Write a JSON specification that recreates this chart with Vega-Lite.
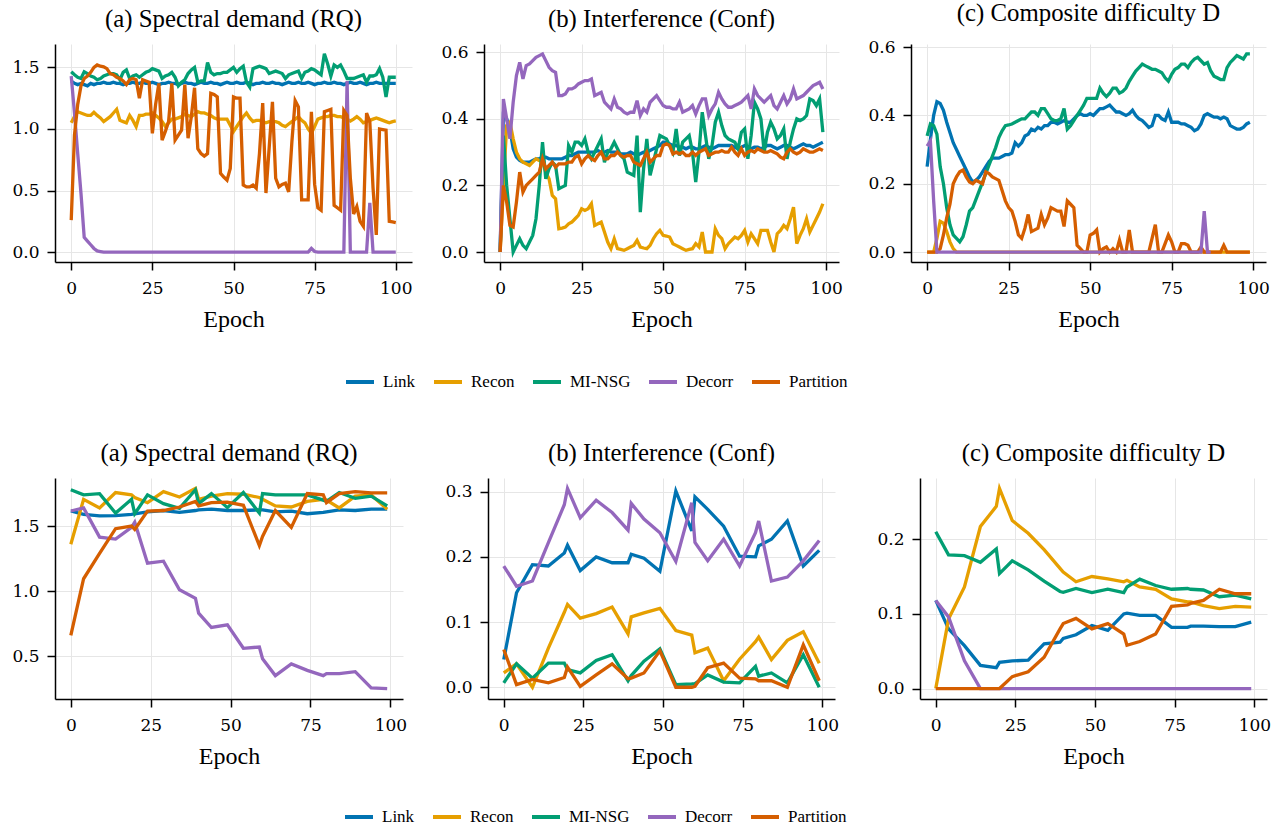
{
"$schema": "https://vega.github.io/schema/vega-lite/v6.json",
"padding": {"left": 11, "top": 1, "right": 5, "bottom": 5},
"datasets": {
"t1": [
{"e":0,"Link":1.39,"Recon":1.05,"MI-NSG":1.465,"Decorr":1.43,"Partition":0.26},
{"e":1,"Link":1.37,"Recon":1.10,"MI-NSG":1.44,"Decorr":1.13,"Partition":0.95},
{"e":2,"Link":1.36,"Recon":1.14,"MI-NSG":1.42,"Decorr":0.80,"Partition":1.2},
{"e":3,"Link":1.37,"Recon":1.13,"MI-NSG":1.41,"Decorr":0.48,"Partition":1.35},
{"e":4,"Link":1.36,"Recon":1.12,"MI-NSG":1.465,"Decorr":0.12,"Partition":1.41},
{"e":5,"Link":1.35,"Recon":1.11,"MI-NSG":1.45,"Decorr":0.09,"Partition":1.43},
{"e":6,"Link":1.37,"Recon":1.11,"MI-NSG":1.43,"Decorr":0.06,"Partition":1.46},
{"e":7,"Link":1.36,"Recon":1.135,"MI-NSG":1.42,"Decorr":0.03,"Partition":1.50},
{"e":8,"Link":1.37,"Recon":1.11,"MI-NSG":1.40,"Decorr":0.01,"Partition":1.52},
{"e":9,"Link":1.37,"Recon":1.09,"MI-NSG":1.41,"Decorr":0.005,"Partition":1.51},
{"e":10,"Link":1.38,"Recon":1.06,"MI-NSG":1.43,"Decorr":0,"Partition":1.505},
{"e":11,"Link":1.37,"Recon":1.08,"MI-NSG":1.44,"Decorr":0,"Partition":1.49},
{"e":12,"Link":1.37,"Recon":1.10,"MI-NSG":1.45,"Decorr":0,"Partition":1.45},
{"e":13,"Link":1.38,"Recon":1.13,"MI-NSG":1.45,"Decorr":0,"Partition":1.44},
{"e":14,"Link":1.37,"Recon":1.16,"MI-NSG":1.44,"Decorr":0,"Partition":1.42},
{"e":15,"Link":1.37,"Recon":1.07,"MI-NSG":1.40,"Decorr":0,"Partition":1.41},
{"e":16,"Link":1.36,"Recon":1.06,"MI-NSG":1.46,"Decorr":0,"Partition":1.39},
{"e":17,"Link":1.37,"Recon":1.05,"MI-NSG":1.48,"Decorr":0,"Partition":1.36},
{"e":18,"Link":1.37,"Recon":1.11,"MI-NSG":1.41,"Decorr":0,"Partition":1.40},
{"e":19,"Link":1.38,"Recon":1.07,"MI-NSG":1.43,"Decorr":0,"Partition":1.41},
{"e":20,"Link":1.37,"Recon":1.02,"MI-NSG":1.44,"Decorr":0,"Partition":1.40},
{"e":21,"Link":1.37,"Recon":1.11,"MI-NSG":1.42,"Decorr":0,"Partition":1.25},
{"e":22,"Link":1.38,"Recon":1.11,"MI-NSG":1.44,"Decorr":0,"Partition":1.40},
{"e":23,"Link":1.37,"Recon":1.12,"MI-NSG":1.46,"Decorr":0,"Partition":1.39},
{"e":24,"Link":1.37,"Recon":1.12,"MI-NSG":1.47,"Decorr":0,"Partition":1.38},
{"e":25,"Link":1.38,"Recon":1.13,"MI-NSG":1.49,"Decorr":0,"Partition":0.965},
{"e":26,"Link":1.37,"Recon":1.11,"MI-NSG":1.48,"Decorr":0,"Partition":1.20},
{"e":27,"Link":1.36,"Recon":1.09,"MI-NSG":1.47,"Decorr":0,"Partition":1.37},
{"e":28,"Link":1.37,"Recon":1.06,"MI-NSG":1.41,"Decorr":0,"Partition":0.91},
{"e":29,"Link":1.37,"Recon":1.02,"MI-NSG":1.43,"Decorr":0,"Partition":0.98},
{"e":30,"Link":1.38,"Recon":1.05,"MI-NSG":1.44,"Decorr":0,"Partition":1.06},
{"e":31,"Link":1.37,"Recon":1.08,"MI-NSG":1.46,"Decorr":0,"Partition":1.37},
{"e":32,"Link":1.37,"Recon":1.08,"MI-NSG":1.42,"Decorr":0,"Partition":0.91},
{"e":33,"Link":1.36,"Recon":1.09,"MI-NSG":1.35,"Decorr":0,"Partition":0.95},
{"e":34,"Link":1.37,"Recon":1.10,"MI-NSG":1.38,"Decorr":0,"Partition":0.99},
{"e":35,"Link":1.38,"Recon":1.12,"MI-NSG":1.40,"Decorr":0,"Partition":1.36},
{"e":36,"Link":1.37,"Recon":1.11,"MI-NSG":1.45,"Decorr":0,"Partition":0.925},
{"e":37,"Link":1.37,"Recon":1.10,"MI-NSG":1.48,"Decorr":0,"Partition":1.10},
{"e":38,"Link":1.36,"Recon":1.12,"MI-NSG":1.50,"Decorr":0,"Partition":1.335},
{"e":39,"Link":1.37,"Recon":1.14,"MI-NSG":1.38,"Decorr":0,"Partition":0.84},
{"e":40,"Link":1.38,"Recon":1.13,"MI-NSG":1.39,"Decorr":0,"Partition":0.80},
{"e":41,"Link":1.37,"Recon":1.13,"MI-NSG":1.39,"Decorr":0,"Partition":0.78},
{"e":42,"Link":1.37,"Recon":1.12,"MI-NSG":1.54,"Decorr":0,"Partition":0.80},
{"e":43,"Link":1.38,"Recon":1.11,"MI-NSG":1.46,"Decorr":0,"Partition":1.29},
{"e":44,"Link":1.37,"Recon":1.09,"MI-NSG":1.44,"Decorr":0,"Partition":1.28},
{"e":45,"Link":1.37,"Recon":1.08,"MI-NSG":1.45,"Decorr":0,"Partition":1.26},
{"e":46,"Link":1.36,"Recon":1.08,"MI-NSG":1.45,"Decorr":0,"Partition":0.64},
{"e":47,"Link":1.37,"Recon":1.08,"MI-NSG":1.46,"Decorr":0,"Partition":0.61},
{"e":48,"Link":1.38,"Recon":1.08,"MI-NSG":1.46,"Decorr":0,"Partition":0.585},
{"e":49,"Link":1.37,"Recon":1.03,"MI-NSG":1.48,"Decorr":0,"Partition":0.68},
{"e":50,"Link":1.37,"Recon":0.98,"MI-NSG":1.50,"Decorr":0,"Partition":1.26},
{"e":51,"Link":1.38,"Recon":1.02,"MI-NSG":1.46,"Decorr":0,"Partition":1.25},
{"e":52,"Link":1.37,"Recon":1.06,"MI-NSG":1.49,"Decorr":0,"Partition":1.25},
{"e":53,"Link":1.37,"Recon":1.10,"MI-NSG":1.51,"Decorr":0,"Partition":0.545},
{"e":54,"Link":1.38,"Recon":1.13,"MI-NSG":1.38,"Decorr":0,"Partition":0.53},
{"e":55,"Link":1.37,"Recon":1.09,"MI-NSG":1.34,"Decorr":0,"Partition":0.53},
{"e":56,"Link":1.36,"Recon":1.06,"MI-NSG":1.49,"Decorr":0,"Partition":0.545},
{"e":57,"Link":1.37,"Recon":1.07,"MI-NSG":1.50,"Decorr":0,"Partition":0.52},
{"e":58,"Link":1.37,"Recon":1.07,"MI-NSG":1.51,"Decorr":0,"Partition":0.80},
{"e":59,"Link":1.38,"Recon":1.06,"MI-NSG":1.50,"Decorr":0,"Partition":1.21},
{"e":60,"Link":1.37,"Recon":1.05,"MI-NSG":1.49,"Decorr":0,"Partition":0.48},
{"e":61,"Link":1.37,"Recon":1.06,"MI-NSG":1.45,"Decorr":0,"Partition":0.85},
{"e":62,"Link":1.38,"Recon":1.06,"MI-NSG":1.46,"Decorr":0,"Partition":1.22},
{"e":63,"Link":1.37,"Recon":1.06,"MI-NSG":1.47,"Decorr":0,"Partition":0.60},
{"e":64,"Link":1.37,"Recon":1.05,"MI-NSG":1.46,"Decorr":0,"Partition":0.53},
{"e":65,"Link":1.36,"Recon":1.03,"MI-NSG":1.45,"Decorr":0,"Partition":0.55},
{"e":66,"Link":1.37,"Recon":1.02,"MI-NSG":1.41,"Decorr":0,"Partition":0.56},
{"e":67,"Link":1.38,"Recon":1.04,"MI-NSG":1.44,"Decorr":0,"Partition":0.49},
{"e":68,"Link":1.37,"Recon":1.06,"MI-NSG":1.45,"Decorr":0,"Partition":0.90},
{"e":69,"Link":1.37,"Recon":1.08,"MI-NSG":1.46,"Decorr":0,"Partition":1.23},
{"e":70,"Link":1.38,"Recon":1.10,"MI-NSG":1.47,"Decorr":0,"Partition":1.18},
{"e":71,"Link":1.37,"Recon":1.07,"MI-NSG":1.41,"Decorr":0,"Partition":0.425},
{"e":72,"Link":1.37,"Recon":1.05,"MI-NSG":1.46,"Decorr":0,"Partition":0.425},
{"e":73,"Link":1.38,"Recon":1.00,"MI-NSG":1.47,"Decorr":0,"Partition":0.425},
{"e":74,"Link":1.37,"Recon":0.965,"MI-NSG":1.49,"Decorr":0.03,"Partition":1.14},
{"e":75,"Link":1.36,"Recon":1.02,"MI-NSG":1.48,"Decorr":0.005,"Partition":0.55},
{"e":76,"Link":1.37,"Recon":1.08,"MI-NSG":1.46,"Decorr":0,"Partition":0.36},
{"e":77,"Link":1.37,"Recon":1.09,"MI-NSG":1.44,"Decorr":0,"Partition":0.34},
{"e":78,"Link":1.38,"Recon":1.10,"MI-NSG":1.61,"Decorr":0,"Partition":1.14},
{"e":79,"Link":1.37,"Recon":1.10,"MI-NSG":1.53,"Decorr":0,"Partition":1.15},
{"e":80,"Link":1.37,"Recon":1.11,"MI-NSG":1.43,"Decorr":0,"Partition":1.16},
{"e":81,"Link":1.38,"Recon":1.11,"MI-NSG":1.52,"Decorr":0,"Partition":0.38},
{"e":82,"Link":1.37,"Recon":1.10,"MI-NSG":1.50,"Decorr":0,"Partition":0.36},
{"e":83,"Link":1.37,"Recon":1.10,"MI-NSG":1.52,"Decorr":0,"Partition":0.34},
{"e":84,"Link":1.36,"Recon":1.09,"MI-NSG":1.47,"Decorr":0,"Partition":1.15},
{"e":85,"Link":1.37,"Recon":1.08,"MI-NSG":1.41,"Decorr":1.39,"Partition":1.11},
{"e":86,"Link":1.38,"Recon":1.065,"MI-NSG":1.41,"Decorr":0,"Partition":0.60},
{"e":87,"Link":1.37,"Recon":1.08,"MI-NSG":1.41,"Decorr":0,"Partition":0.31},
{"e":88,"Link":1.37,"Recon":1.10,"MI-NSG":1.42,"Decorr":0,"Partition":0.37},
{"e":89,"Link":1.38,"Recon":1.08,"MI-NSG":1.43,"Decorr":0,"Partition":0.25},
{"e":90,"Link":1.37,"Recon":1.05,"MI-NSG":1.44,"Decorr":0,"Partition":0.21},
{"e":91,"Link":1.36,"Recon":1.06,"MI-NSG":1.38,"Decorr":0,"Partition":1.13},
{"e":92,"Link":1.37,"Recon":1.07,"MI-NSG":1.43,"Decorr":0.4,"Partition":1.06},
{"e":93,"Link":1.37,"Recon":1.08,"MI-NSG":1.43,"Decorr":0,"Partition":0.52},
{"e":94,"Link":1.38,"Recon":1.09,"MI-NSG":1.44,"Decorr":0,"Partition":0.14},
{"e":95,"Link":1.37,"Recon":1.08,"MI-NSG":1.49,"Decorr":0,"Partition":1.0},
{"e":96,"Link":1.37,"Recon":1.07,"MI-NSG":1.42,"Decorr":0,"Partition":0.995},
{"e":97,"Link":1.37,"Recon":1.06,"MI-NSG":1.26,"Decorr":0,"Partition":0.99},
{"e":98,"Link":1.37,"Recon":1.05,"MI-NSG":1.42,"Decorr":0,"Partition":0.25},
{"e":99,"Link":1.37,"Recon":1.06,"MI-NSG":1.42,"Decorr":0,"Partition":0.245},
{"e":100,"Link":1.37,"Recon":1.065,"MI-NSG":1.42,"Decorr":0,"Partition":0.24}
],
"t2": [
{"e":0,"Link":0,"Recon":0,"MI-NSG":0,"Decorr":0,"Partition":0},
{"e":1,"Link":0.41,"Recon":0.2,"MI-NSG":0.35,"Decorr":0.46,"Partition":0.2},
{"e":2,"Link":0.40,"Recon":0.38,"MI-NSG":0.2,"Decorr":0.40,"Partition":0.15},
{"e":3,"Link":0.37,"Recon":0.39,"MI-NSG":0.1,"Decorr":0.34,"Partition":0.08},
{"e":4,"Link":0.31,"Recon":0.34,"MI-NSG":0.0,"Decorr":0.45,"Partition":0.075},
{"e":5,"Link":0.285,"Recon":0.3,"MI-NSG":0.02,"Decorr":0.53,"Partition":0.15},
{"e":6,"Link":0.275,"Recon":0.28,"MI-NSG":0.04,"Decorr":0.57,"Partition":0.24},
{"e":7,"Link":0.27,"Recon":0.27,"MI-NSG":0.02,"Decorr":0.52,"Partition":0.18},
{"e":8,"Link":0.27,"Recon":0.265,"MI-NSG":0.01,"Decorr":0.56,"Partition":0.2},
{"e":9,"Link":0.27,"Recon":0.26,"MI-NSG":0.03,"Decorr":0.565,"Partition":0.21},
{"e":10,"Link":0.275,"Recon":0.27,"MI-NSG":0.05,"Decorr":0.575,"Partition":0.22},
{"e":11,"Link":0.28,"Recon":0.28,"MI-NSG":0.1,"Decorr":0.585,"Partition":0.23},
{"e":12,"Link":0.28,"Recon":0.275,"MI-NSG":0.2,"Decorr":0.59,"Partition":0.24},
{"e":13,"Link":0.285,"Recon":0.27,"MI-NSG":0.33,"Decorr":0.595,"Partition":0.28},
{"e":14,"Link":0.285,"Recon":0.24,"MI-NSG":0.22,"Decorr":0.575,"Partition":0.25},
{"e":15,"Link":0.28,"Recon":0.22,"MI-NSG":0.25,"Decorr":0.555,"Partition":0.26},
{"e":16,"Link":0.28,"Recon":0.17,"MI-NSG":0.27,"Decorr":0.545,"Partition":0.27},
{"e":17,"Link":0.28,"Recon":0.16,"MI-NSG":0.26,"Decorr":0.54,"Partition":0.255},
{"e":18,"Link":0.28,"Recon":0.07,"MI-NSG":0.19,"Decorr":0.47,"Partition":0.265},
{"e":19,"Link":0.28,"Recon":0.072,"MI-NSG":0.195,"Decorr":0.47,"Partition":0.265},
{"e":20,"Link":0.285,"Recon":0.075,"MI-NSG":0.2,"Decorr":0.475,"Partition":0.265},
{"e":21,"Link":0.29,"Recon":0.085,"MI-NSG":0.32,"Decorr":0.49,"Partition":0.27},
{"e":22,"Link":0.29,"Recon":0.09,"MI-NSG":0.3,"Decorr":0.49,"Partition":0.27},
{"e":23,"Link":0.295,"Recon":0.1,"MI-NSG":0.33,"Decorr":0.495,"Partition":0.285},
{"e":24,"Link":0.3,"Recon":0.11,"MI-NSG":0.33,"Decorr":0.505,"Partition":0.29},
{"e":25,"Link":0.3,"Recon":0.13,"MI-NSG":0.32,"Decorr":0.51,"Partition":0.265},
{"e":26,"Link":0.3,"Recon":0.125,"MI-NSG":0.34,"Decorr":0.515,"Partition":0.28},
{"e":27,"Link":0.3,"Recon":0.13,"MI-NSG":0.3,"Decorr":0.515,"Partition":0.29},
{"e":28,"Link":0.3,"Recon":0.145,"MI-NSG":0.28,"Decorr":0.52,"Partition":0.28},
{"e":29,"Link":0.3,"Recon":0.08,"MI-NSG":0.3,"Decorr":0.47,"Partition":0.275},
{"e":30,"Link":0.305,"Recon":0.085,"MI-NSG":0.32,"Decorr":0.475,"Partition":0.29},
{"e":31,"Link":0.3,"Recon":0.09,"MI-NSG":0.34,"Decorr":0.48,"Partition":0.3},
{"e":32,"Link":0.3,"Recon":0.06,"MI-NSG":0.27,"Decorr":0.45,"Partition":0.28},
{"e":33,"Link":0.305,"Recon":0.03,"MI-NSG":0.3,"Decorr":0.44,"Partition":0.28},
{"e":34,"Link":0.3,"Recon":0.01,"MI-NSG":0.31,"Decorr":0.43,"Partition":0.29},
{"e":35,"Link":0.3,"Recon":0.04,"MI-NSG":0.33,"Decorr":0.46,"Partition":0.29},
{"e":36,"Link":0.3,"Recon":0.01,"MI-NSG":0.31,"Decorr":0.435,"Partition":0.3},
{"e":37,"Link":0.295,"Recon":0.008,"MI-NSG":0.29,"Decorr":0.43,"Partition":0.29},
{"e":38,"Link":0.295,"Recon":0.005,"MI-NSG":0.28,"Decorr":0.42,"Partition":0.285},
{"e":39,"Link":0.295,"Recon":0.01,"MI-NSG":0.24,"Decorr":0.415,"Partition":0.29},
{"e":40,"Link":0.3,"Recon":0.015,"MI-NSG":0.235,"Decorr":0.42,"Partition":0.29},
{"e":41,"Link":0.295,"Recon":0.02,"MI-NSG":0.23,"Decorr":0.42,"Partition":0.27},
{"e":42,"Link":0.29,"Recon":0.035,"MI-NSG":0.35,"Decorr":0.455,"Partition":0.265},
{"e":43,"Link":0.295,"Recon":0.015,"MI-NSG":0.12,"Decorr":0.41,"Partition":0.26},
{"e":44,"Link":0.3,"Recon":0.012,"MI-NSG":0.25,"Decorr":0.43,"Partition":0.28},
{"e":45,"Link":0.3,"Recon":0.01,"MI-NSG":0.34,"Decorr":0.42,"Partition":0.3},
{"e":46,"Link":0.305,"Recon":0.02,"MI-NSG":0.23,"Decorr":0.45,"Partition":0.27},
{"e":47,"Link":0.31,"Recon":0.04,"MI-NSG":0.27,"Decorr":0.46,"Partition":0.28},
{"e":48,"Link":0.315,"Recon":0.055,"MI-NSG":0.31,"Decorr":0.47,"Partition":0.29},
{"e":49,"Link":0.32,"Recon":0.065,"MI-NSG":0.35,"Decorr":0.455,"Partition":0.29},
{"e":50,"Link":0.33,"Recon":0.05,"MI-NSG":0.345,"Decorr":0.44,"Partition":0.32},
{"e":51,"Link":0.33,"Recon":0.048,"MI-NSG":0.34,"Decorr":0.435,"Partition":0.325},
{"e":52,"Link":0.325,"Recon":0.045,"MI-NSG":0.32,"Decorr":0.435,"Partition":0.32},
{"e":53,"Link":0.32,"Recon":0.025,"MI-NSG":0.3,"Decorr":0.43,"Partition":0.295},
{"e":54,"Link":0.32,"Recon":0.02,"MI-NSG":0.37,"Decorr":0.43,"Partition":0.3},
{"e":55,"Link":0.315,"Recon":0.015,"MI-NSG":0.29,"Decorr":0.45,"Partition":0.295},
{"e":56,"Link":0.315,"Recon":0.01,"MI-NSG":0.33,"Decorr":0.42,"Partition":0.3},
{"e":57,"Link":0.31,"Recon":0.005,"MI-NSG":0.34,"Decorr":0.425,"Partition":0.29},
{"e":58,"Link":0.315,"Recon":0.008,"MI-NSG":0.35,"Decorr":0.43,"Partition":0.29},
{"e":59,"Link":0.315,"Recon":0.01,"MI-NSG":0.3,"Decorr":0.44,"Partition":0.3},
{"e":60,"Link":0.31,"Recon":0.025,"MI-NSG":0.21,"Decorr":0.415,"Partition":0.29},
{"e":61,"Link":0.31,"Recon":0.015,"MI-NSG":0.3,"Decorr":0.44,"Partition":0.3},
{"e":62,"Link":0.315,"Recon":0.06,"MI-NSG":0.42,"Decorr":0.46,"Partition":0.305},
{"e":63,"Link":0.32,"Recon":0.0,"MI-NSG":0.35,"Decorr":0.46,"Partition":0.31},
{"e":64,"Link":0.315,"Recon":0.0,"MI-NSG":0.28,"Decorr":0.41,"Partition":0.29},
{"e":65,"Link":0.31,"Recon":0.0,"MI-NSG":0.32,"Decorr":0.43,"Partition":0.295},
{"e":66,"Link":0.315,"Recon":0.07,"MI-NSG":0.39,"Decorr":0.445,"Partition":0.3},
{"e":67,"Link":0.32,"Recon":0.05,"MI-NSG":0.42,"Decorr":0.48,"Partition":0.3},
{"e":68,"Link":0.32,"Recon":0.04,"MI-NSG":0.38,"Decorr":0.46,"Partition":0.305},
{"e":69,"Link":0.32,"Recon":0.01,"MI-NSG":0.35,"Decorr":0.445,"Partition":0.3},
{"e":70,"Link":0.32,"Recon":0.025,"MI-NSG":0.34,"Decorr":0.435,"Partition":0.3},
{"e":71,"Link":0.32,"Recon":0.035,"MI-NSG":0.335,"Decorr":0.435,"Partition":0.315},
{"e":72,"Link":0.315,"Recon":0.045,"MI-NSG":0.33,"Decorr":0.44,"Partition":0.3},
{"e":73,"Link":0.31,"Recon":0.04,"MI-NSG":0.31,"Decorr":0.445,"Partition":0.29},
{"e":74,"Link":0.315,"Recon":0.05,"MI-NSG":0.36,"Decorr":0.45,"Partition":0.31},
{"e":75,"Link":0.32,"Recon":0.065,"MI-NSG":0.37,"Decorr":0.46,"Partition":0.29},
{"e":76,"Link":0.315,"Recon":0.03,"MI-NSG":0.28,"Decorr":0.47,"Partition":0.3},
{"e":77,"Link":0.31,"Recon":0.055,"MI-NSG":0.35,"Decorr":0.43,"Partition":0.305},
{"e":78,"Link":0.315,"Recon":0.04,"MI-NSG":0.45,"Decorr":0.49,"Partition":0.3},
{"e":79,"Link":0.315,"Recon":0.025,"MI-NSG":0.43,"Decorr":0.47,"Partition":0.31},
{"e":80,"Link":0.31,"Recon":0.065,"MI-NSG":0.4,"Decorr":0.46,"Partition":0.305},
{"e":81,"Link":0.315,"Recon":0.065,"MI-NSG":0.3,"Decorr":0.45,"Partition":0.3},
{"e":82,"Link":0.32,"Recon":0.065,"MI-NSG":0.36,"Decorr":0.46,"Partition":0.3},
{"e":83,"Link":0.32,"Recon":0.03,"MI-NSG":0.39,"Decorr":0.47,"Partition":0.305},
{"e":84,"Link":0.315,"Recon":0.0,"MI-NSG":0.37,"Decorr":0.44,"Partition":0.3},
{"e":85,"Link":0.31,"Recon":0.055,"MI-NSG":0.34,"Decorr":0.43,"Partition":0.295},
{"e":86,"Link":0.315,"Recon":0.065,"MI-NSG":0.35,"Decorr":0.45,"Partition":0.285},
{"e":87,"Link":0.32,"Recon":0.08,"MI-NSG":0.37,"Decorr":0.47,"Partition":0.28},
{"e":88,"Link":0.32,"Recon":0.07,"MI-NSG":0.28,"Decorr":0.445,"Partition":0.3},
{"e":89,"Link":0.315,"Recon":0.1,"MI-NSG":0.33,"Decorr":0.46,"Partition":0.31},
{"e":90,"Link":0.31,"Recon":0.135,"MI-NSG":0.37,"Decorr":0.49,"Partition":0.3},
{"e":91,"Link":0.315,"Recon":0.025,"MI-NSG":0.4,"Decorr":0.46,"Partition":0.295},
{"e":92,"Link":0.32,"Recon":0.05,"MI-NSG":0.395,"Decorr":0.465,"Partition":0.3},
{"e":93,"Link":0.325,"Recon":0.07,"MI-NSG":0.4,"Decorr":0.47,"Partition":0.31},
{"e":94,"Link":0.32,"Recon":0.1,"MI-NSG":0.41,"Decorr":0.48,"Partition":0.305},
{"e":95,"Link":0.32,"Recon":0.06,"MI-NSG":0.46,"Decorr":0.49,"Partition":0.3},
{"e":96,"Link":0.315,"Recon":0.08,"MI-NSG":0.455,"Decorr":0.5,"Partition":0.3},
{"e":97,"Link":0.32,"Recon":0.1,"MI-NSG":0.44,"Decorr":0.505,"Partition":0.305},
{"e":98,"Link":0.325,"Recon":0.12,"MI-NSG":0.46,"Decorr":0.51,"Partition":0.31},
{"e":99,"Link":0.33,"Recon":0.145,"MI-NSG":0.36,"Decorr":0.49,"Partition":0.305}
],
"t3": [
{"e":0,"Link":0.25,"Recon":0,"MI-NSG":0.34,"Decorr":0.31,"Partition":0},
{"e":1,"Link":0.33,"Recon":0,"MI-NSG":0.375,"Decorr":0.325,"Partition":0},
{"e":2,"Link":0.4,"Recon":0,"MI-NSG":0.37,"Decorr":0.15,"Partition":0},
{"e":3,"Link":0.44,"Recon":0.04,"MI-NSG":0.345,"Decorr":0,"Partition":0},
{"e":4,"Link":0.435,"Recon":0.09,"MI-NSG":0.25,"Decorr":0,"Partition":0.01},
{"e":5,"Link":0.415,"Recon":0.085,"MI-NSG":0.2,"Decorr":0,"Partition":0.05},
{"e":6,"Link":0.38,"Recon":0.06,"MI-NSG":0.13,"Decorr":0,"Partition":0.1},
{"e":7,"Link":0.35,"Recon":0.03,"MI-NSG":0.08,"Decorr":0,"Partition":0.14},
{"e":8,"Link":0.32,"Recon":0.01,"MI-NSG":0.05,"Decorr":0,"Partition":0.2},
{"e":9,"Link":0.3,"Recon":0,"MI-NSG":0.04,"Decorr":0,"Partition":0.22},
{"e":10,"Link":0.28,"Recon":0,"MI-NSG":0.03,"Decorr":0,"Partition":0.235},
{"e":11,"Link":0.26,"Recon":0,"MI-NSG":0.045,"Decorr":0,"Partition":0.24},
{"e":12,"Link":0.24,"Recon":0,"MI-NSG":0.08,"Decorr":0,"Partition":0.22},
{"e":13,"Link":0.22,"Recon":0,"MI-NSG":0.12,"Decorr":0,"Partition":0.205},
{"e":14,"Link":0.205,"Recon":0,"MI-NSG":0.13,"Decorr":0,"Partition":0.2},
{"e":15,"Link":0.21,"Recon":0,"MI-NSG":0.155,"Decorr":0,"Partition":0.21},
{"e":16,"Link":0.22,"Recon":0,"MI-NSG":0.18,"Decorr":0,"Partition":0.205},
{"e":17,"Link":0.235,"Recon":0,"MI-NSG":0.205,"Decorr":0,"Partition":0.2},
{"e":18,"Link":0.25,"Recon":0,"MI-NSG":0.23,"Decorr":0,"Partition":0.235},
{"e":19,"Link":0.265,"Recon":0,"MI-NSG":0.255,"Decorr":0,"Partition":0.23},
{"e":20,"Link":0.275,"Recon":0,"MI-NSG":0.28,"Decorr":0,"Partition":0.22},
{"e":21,"Link":0.275,"Recon":0,"MI-NSG":0.305,"Decorr":0,"Partition":0.215},
{"e":22,"Link":0.275,"Recon":0,"MI-NSG":0.335,"Decorr":0,"Partition":0.21},
{"e":23,"Link":0.28,"Recon":0,"MI-NSG":0.355,"Decorr":0,"Partition":0.18},
{"e":24,"Link":0.285,"Recon":0,"MI-NSG":0.37,"Decorr":0,"Partition":0.15},
{"e":25,"Link":0.285,"Recon":0,"MI-NSG":0.372,"Decorr":0,"Partition":0.13},
{"e":26,"Link":0.29,"Recon":0,"MI-NSG":0.375,"Decorr":0,"Partition":0.12},
{"e":27,"Link":0.32,"Recon":0,"MI-NSG":0.38,"Decorr":0,"Partition":0.09},
{"e":28,"Link":0.31,"Recon":0,"MI-NSG":0.385,"Decorr":0,"Partition":0.05},
{"e":29,"Link":0.32,"Recon":0,"MI-NSG":0.39,"Decorr":0,"Partition":0.04},
{"e":30,"Link":0.34,"Recon":0,"MI-NSG":0.39,"Decorr":0,"Partition":0.07},
{"e":31,"Link":0.345,"Recon":0,"MI-NSG":0.4,"Decorr":0,"Partition":0.11},
{"e":32,"Link":0.36,"Recon":0,"MI-NSG":0.41,"Decorr":0,"Partition":0.06},
{"e":33,"Link":0.355,"Recon":0,"MI-NSG":0.41,"Decorr":0,"Partition":0.065},
{"e":34,"Link":0.365,"Recon":0,"MI-NSG":0.4,"Decorr":0,"Partition":0.07},
{"e":35,"Link":0.36,"Recon":0,"MI-NSG":0.42,"Decorr":0,"Partition":0.11},
{"e":36,"Link":0.37,"Recon":0,"MI-NSG":0.42,"Decorr":0,"Partition":0.08},
{"e":37,"Link":0.37,"Recon":0,"MI-NSG":0.405,"Decorr":0,"Partition":0.1},
{"e":38,"Link":0.38,"Recon":0,"MI-NSG":0.39,"Decorr":0,"Partition":0.13},
{"e":39,"Link":0.38,"Recon":0,"MI-NSG":0.385,"Decorr":0,"Partition":0.125},
{"e":40,"Link":0.375,"Recon":0,"MI-NSG":0.385,"Decorr":0,"Partition":0.12},
{"e":41,"Link":0.38,"Recon":0,"MI-NSG":0.39,"Decorr":0,"Partition":0.12},
{"e":42,"Link":0.385,"Recon":0,"MI-NSG":0.42,"Decorr":0,"Partition":0.075},
{"e":43,"Link":0.38,"Recon":0,"MI-NSG":0.36,"Decorr":0,"Partition":0.15},
{"e":44,"Link":0.38,"Recon":0,"MI-NSG":0.37,"Decorr":0,"Partition":0.14},
{"e":45,"Link":0.39,"Recon":0,"MI-NSG":0.385,"Decorr":0,"Partition":0.13},
{"e":46,"Link":0.4,"Recon":0,"MI-NSG":0.4,"Decorr":0,"Partition":0.02},
{"e":47,"Link":0.405,"Recon":0,"MI-NSG":0.415,"Decorr":0,"Partition":0.01},
{"e":48,"Link":0.4,"Recon":0,"MI-NSG":0.43,"Decorr":0,"Partition":0},
{"e":49,"Link":0.4,"Recon":0,"MI-NSG":0.45,"Decorr":0,"Partition":0},
{"e":50,"Link":0.405,"Recon":0,"MI-NSG":0.45,"Decorr":0,"Partition":0.05},
{"e":51,"Link":0.4,"Recon":0,"MI-NSG":0.45,"Decorr":0,"Partition":0.055},
{"e":52,"Link":0.41,"Recon":0,"MI-NSG":0.45,"Decorr":0,"Partition":0.065},
{"e":53,"Link":0.42,"Recon":0,"MI-NSG":0.48,"Decorr":0,"Partition":0},
{"e":54,"Link":0.42,"Recon":0,"MI-NSG":0.465,"Decorr":0,"Partition":0.01},
{"e":55,"Link":0.425,"Recon":0,"MI-NSG":0.455,"Decorr":0,"Partition":0.015},
{"e":56,"Link":0.43,"Recon":0,"MI-NSG":0.465,"Decorr":0,"Partition":0},
{"e":57,"Link":0.42,"Recon":0,"MI-NSG":0.48,"Decorr":0,"Partition":0.01},
{"e":58,"Link":0.41,"Recon":0,"MI-NSG":0.48,"Decorr":0,"Partition":0},
{"e":59,"Link":0.41,"Recon":0,"MI-NSG":0.465,"Decorr":0,"Partition":0.035},
{"e":60,"Link":0.405,"Recon":0,"MI-NSG":0.47,"Decorr":0,"Partition":0},
{"e":61,"Link":0.4,"Recon":0,"MI-NSG":0.48,"Decorr":0,"Partition":0},
{"e":62,"Link":0.405,"Recon":0,"MI-NSG":0.5,"Decorr":0,"Partition":0.065},
{"e":63,"Link":0.415,"Recon":0,"MI-NSG":0.515,"Decorr":0,"Partition":0},
{"e":64,"Link":0.4,"Recon":0,"MI-NSG":0.53,"Decorr":0,"Partition":0},
{"e":65,"Link":0.39,"Recon":0,"MI-NSG":0.54,"Decorr":0,"Partition":0},
{"e":66,"Link":0.385,"Recon":0,"MI-NSG":0.55,"Decorr":0,"Partition":0},
{"e":67,"Link":0.375,"Recon":0,"MI-NSG":0.545,"Decorr":0,"Partition":0},
{"e":68,"Link":0.365,"Recon":0,"MI-NSG":0.54,"Decorr":0,"Partition":0},
{"e":69,"Link":0.37,"Recon":0,"MI-NSG":0.535,"Decorr":0,"Partition":0.04},
{"e":70,"Link":0.4,"Recon":0,"MI-NSG":0.535,"Decorr":0,"Partition":0.08},
{"e":71,"Link":0.4,"Recon":0,"MI-NSG":0.53,"Decorr":0,"Partition":0},
{"e":72,"Link":0.39,"Recon":0,"MI-NSG":0.525,"Decorr":0,"Partition":0},
{"e":73,"Link":0.385,"Recon":0,"MI-NSG":0.51,"Decorr":0,"Partition":0.025},
{"e":74,"Link":0.41,"Recon":0,"MI-NSG":0.5,"Decorr":0,"Partition":0.05},
{"e":75,"Link":0.38,"Recon":0,"MI-NSG":0.52,"Decorr":0,"Partition":0.03},
{"e":76,"Link":0.38,"Recon":0,"MI-NSG":0.535,"Decorr":0,"Partition":0},
{"e":77,"Link":0.38,"Recon":0,"MI-NSG":0.54,"Decorr":0,"Partition":0},
{"e":78,"Link":0.375,"Recon":0,"MI-NSG":0.55,"Decorr":0,"Partition":0.025},
{"e":79,"Link":0.375,"Recon":0,"MI-NSG":0.55,"Decorr":0,"Partition":0.025},
{"e":80,"Link":0.37,"Recon":0,"MI-NSG":0.54,"Decorr":0,"Partition":0.02},
{"e":81,"Link":0.365,"Recon":0,"MI-NSG":0.555,"Decorr":0,"Partition":0},
{"e":82,"Link":0.355,"Recon":0,"MI-NSG":0.565,"Decorr":0,"Partition":0},
{"e":83,"Link":0.36,"Recon":0,"MI-NSG":0.57,"Decorr":0,"Partition":0},
{"e":84,"Link":0.375,"Recon":0,"MI-NSG":0.56,"Decorr":0,"Partition":0.015},
{"e":85,"Link":0.4,"Recon":0,"MI-NSG":0.55,"Decorr":0.12,"Partition":0},
{"e":86,"Link":0.405,"Recon":0,"MI-NSG":0.555,"Decorr":0,"Partition":0},
{"e":87,"Link":0.4,"Recon":0,"MI-NSG":0.53,"Decorr":0,"Partition":0},
{"e":88,"Link":0.395,"Recon":0,"MI-NSG":0.515,"Decorr":null,"Partition":0},
{"e":89,"Link":0.395,"Recon":0,"MI-NSG":0.51,"Decorr":null,"Partition":0},
{"e":90,"Link":0.39,"Recon":0,"MI-NSG":0.505,"Decorr":null,"Partition":0},
{"e":91,"Link":0.395,"Recon":0,"MI-NSG":0.505,"Decorr":null,"Partition":0.02},
{"e":92,"Link":0.39,"Recon":0,"MI-NSG":0.54,"Decorr":null,"Partition":0},
{"e":93,"Link":0.37,"Recon":0,"MI-NSG":0.555,"Decorr":null,"Partition":0},
{"e":94,"Link":0.365,"Recon":0,"MI-NSG":0.565,"Decorr":null,"Partition":0},
{"e":95,"Link":0.36,"Recon":0,"MI-NSG":0.575,"Decorr":null,"Partition":0},
{"e":96,"Link":0.36,"Recon":0,"MI-NSG":0.57,"Decorr":null,"Partition":0},
{"e":97,"Link":0.365,"Recon":0,"MI-NSG":0.565,"Decorr":null,"Partition":0},
{"e":98,"Link":0.375,"Recon":0,"MI-NSG":0.58,"Decorr":null,"Partition":0},
{"e":99,"Link":0.38,"Recon":0,"MI-NSG":0.58,"Decorr":null,"Partition":0}
],
"b1": [
{"e":0,"Link":1.616,"Recon":1.36,"MI-NSG":1.78,"Decorr":1.616,"Partition":0.66},
{"e":4,"Link":1.59,"Recon":1.706,"MI-NSG":1.74,"Decorr":1.64,"Partition":1.095},
{"e":9,"Link":1.578,"Recon":1.64,"MI-NSG":1.75,"Decorr":1.415,"Partition":1.29},
{"e":14,"Link":1.58,"Recon":1.758,"MI-NSG":1.60,"Decorr":1.40,"Partition":1.48},
{"e":19,"Link":1.59,"Recon":1.74,"MI-NSG":1.706,"Decorr":1.49,"Partition":1.50},
{"e":20,"Link":1.595,"Recon":1.72,"MI-NSG":1.595,"Decorr":1.53,"Partition":1.475},
{"e":24,"Link":1.61,"Recon":1.68,"MI-NSG":1.74,"Decorr":1.215,"Partition":1.616},
{"e":29,"Link":1.62,"Recon":1.765,"MI-NSG":1.673,"Decorr":1.23,"Partition":1.62},
{"e":34,"Link":1.605,"Recon":1.724,"MI-NSG":1.637,"Decorr":1.01,"Partition":1.647},
{"e":39,"Link":1.62,"Recon":1.79,"MI-NSG":1.78,"Decorr":0.945,"Partition":1.69},
{"e":40,"Link":1.625,"Recon":1.706,"MI-NSG":1.673,"Decorr":0.83,"Partition":1.655},
{"e":44,"Link":1.63,"Recon":1.73,"MI-NSG":1.75,"Decorr":0.72,"Partition":1.68},
{"e":49,"Link":1.62,"Recon":1.75,"MI-NSG":1.642,"Decorr":0.74,"Partition":1.685},
{"e":54,"Link":1.62,"Recon":1.745,"MI-NSG":1.758,"Decorr":0.56,"Partition":1.66},
{"e":59,"Link":1.625,"Recon":1.72,"MI-NSG":1.60,"Decorr":0.57,"Partition":1.35},
{"e":60,"Link":1.625,"Recon":1.706,"MI-NSG":1.75,"Decorr":0.48,"Partition":1.42},
{"e":64,"Link":1.61,"Recon":1.655,"MI-NSG":1.74,"Decorr":0.35,"Partition":1.62},
{"e":69,"Link":1.615,"Recon":1.647,"MI-NSG":1.74,"Decorr":0.44,"Partition":1.49},
{"e":74,"Link":1.595,"Recon":1.69,"MI-NSG":1.74,"Decorr":0.39,"Partition":1.75},
{"e":79,"Link":1.605,"Recon":1.706,"MI-NSG":1.70,"Decorr":0.35,"Partition":1.74},
{"e":80,"Link":1.61,"Recon":1.70,"MI-NSG":1.69,"Decorr":0.365,"Partition":1.68},
{"e":84,"Link":1.625,"Recon":1.64,"MI-NSG":1.758,"Decorr":0.365,"Partition":1.75},
{"e":89,"Link":1.62,"Recon":1.73,"MI-NSG":1.714,"Decorr":0.38,"Partition":1.765},
{"e":94,"Link":1.63,"Recon":1.74,"MI-NSG":1.73,"Decorr":0.255,"Partition":1.755},
{"e":99,"Link":1.63,"Recon":1.63,"MI-NSG":1.655,"Decorr":0.25,"Partition":1.755}
],
"b2": [
{"e":0,"Link":0.0425,"Recon":0.022,"MI-NSG":0.0067,"Decorr":0.186,"Partition":0.058},
{"e":4,"Link":0.145,"Recon":0.036,"MI-NSG":0.036,"Decorr":0.155,"Partition":0.004},
{"e":9,"Link":0.188,"Recon":0.0,"MI-NSG":0.014,"Decorr":0.163,"Partition":0.012},
{"e":14,"Link":0.186,"Recon":0.06,"MI-NSG":0.037,"Decorr":0.222,"Partition":0.0067},
{"e":19,"Link":0.206,"Recon":0.115,"MI-NSG":0.037,"Decorr":0.28,"Partition":0.015},
{"e":20,"Link":0.218,"Recon":0.127,"MI-NSG":0.027,"Decorr":0.305,"Partition":0.031},
{"e":24,"Link":0.179,"Recon":0.106,"MI-NSG":0.022,"Decorr":0.26,"Partition":0.0015},
{"e":29,"Link":0.2,"Recon":0.113,"MI-NSG":0.041,"Decorr":0.287,"Partition":0.019},
{"e":34,"Link":0.191,"Recon":0.123,"MI-NSG":0.05,"Decorr":0.268,"Partition":0.036},
{"e":39,"Link":0.191,"Recon":0.082,"MI-NSG":0.01,"Decorr":0.241,"Partition":0.013},
{"e":40,"Link":0.204,"Recon":0.108,"MI-NSG":0.018,"Decorr":0.282,"Partition":0.014},
{"e":44,"Link":0.198,"Recon":0.114,"MI-NSG":0.04,"Decorr":0.258,"Partition":0.022},
{"e":49,"Link":0.178,"Recon":0.121,"MI-NSG":0.059,"Decorr":0.237,"Partition":0.056},
{"e":54,"Link":0.301,"Recon":0.087,"MI-NSG":0.004,"Decorr":0.193,"Partition":0.0},
{"e":59,"Link":0.24,"Recon":0.08,"MI-NSG":0.005,"Decorr":0.283,"Partition":0.0},
{"e":60,"Link":0.292,"Recon":0.053,"MI-NSG":0.0056,"Decorr":0.222,"Partition":0.0015},
{"e":64,"Link":0.273,"Recon":0.06,"MI-NSG":0.019,"Decorr":0.194,"Partition":0.03},
{"e":69,"Link":0.247,"Recon":0.01,"MI-NSG":0.008,"Decorr":0.227,"Partition":0.037},
{"e":74,"Link":0.201,"Recon":0.043,"MI-NSG":0.0067,"Decorr":0.186,"Partition":0.014},
{"e":79,"Link":0.2,"Recon":0.07,"MI-NSG":0.032,"Decorr":0.237,"Partition":0.013},
{"e":80,"Link":0.217,"Recon":0.077,"MI-NSG":0.017,"Decorr":0.255,"Partition":0.01},
{"e":84,"Link":0.227,"Recon":0.0425,"MI-NSG":0.022,"Decorr":0.163,"Partition":0.01},
{"e":89,"Link":0.255,"Recon":0.072,"MI-NSG":0.0067,"Decorr":0.169,"Partition":0.0},
{"e":94,"Link":0.186,"Recon":0.085,"MI-NSG":0.05,"Decorr":0.194,"Partition":0.065},
{"e":99,"Link":0.21,"Recon":0.037,"MI-NSG":0.0,"Decorr":0.225,"Partition":0.01}
],
"b3": [
{"e":0,"Link":0.118,"Recon":0,"MI-NSG":0.21,"Decorr":0.118,"Partition":0},
{"e":4,"Link":0.08,"Recon":0.093,"MI-NSG":0.179,"Decorr":0.096,"Partition":0},
{"e":9,"Link":0.0575,"Recon":0.136,"MI-NSG":0.178,"Decorr":0.037,"Partition":0},
{"e":14,"Link":0.031,"Recon":0.217,"MI-NSG":0.169,"Decorr":0,"Partition":0},
{"e":19,"Link":0.028,"Recon":0.244,"MI-NSG":0.187,"Decorr":0,"Partition":0},
{"e":20,"Link":0.035,"Recon":0.268,"MI-NSG":0.154,"Decorr":0,"Partition":0},
{"e":24,"Link":0.037,"Recon":0.225,"MI-NSG":0.171,"Decorr":0,"Partition":0.016},
{"e":29,"Link":0.038,"Recon":0.208,"MI-NSG":0.159,"Decorr":0,"Partition":0.0225},
{"e":34,"Link":0.06,"Recon":0.186,"MI-NSG":0.144,"Decorr":0,"Partition":0.042},
{"e":39,"Link":0.062,"Recon":0.161,"MI-NSG":0.13,"Decorr":0,"Partition":0.08},
{"e":40,"Link":0.067,"Recon":0.156,"MI-NSG":0.129,"Decorr":0,"Partition":0.087},
{"e":44,"Link":0.072,"Recon":0.143,"MI-NSG":0.134,"Decorr":0,"Partition":0.094},
{"e":49,"Link":0.0845,"Recon":0.15,"MI-NSG":0.1285,"Decorr":0,"Partition":0.08},
{"e":54,"Link":0.078,"Recon":0.147,"MI-NSG":0.133,"Decorr":0,"Partition":0.087},
{"e":59,"Link":0.1,"Recon":0.143,"MI-NSG":0.1285,"Decorr":0,"Partition":0.073},
{"e":60,"Link":0.101,"Recon":0.145,"MI-NSG":0.136,"Decorr":0,"Partition":0.058},
{"e":64,"Link":0.098,"Recon":0.136,"MI-NSG":0.1465,"Decorr":0,"Partition":0.063},
{"e":69,"Link":0.098,"Recon":0.133,"MI-NSG":0.138,"Decorr":0,"Partition":0.073},
{"e":74,"Link":0.082,"Recon":0.12,"MI-NSG":0.133,"Decorr":0,"Partition":0.11},
{"e":79,"Link":0.082,"Recon":0.116,"MI-NSG":0.134,"Decorr":0,"Partition":0.112},
{"e":80,"Link":0.0835,"Recon":0.116,"MI-NSG":0.133,"Decorr":0,"Partition":0.114},
{"e":84,"Link":0.0835,"Recon":0.111,"MI-NSG":0.132,"Decorr":0,"Partition":0.118},
{"e":89,"Link":0.083,"Recon":0.107,"MI-NSG":0.123,"Decorr":0,"Partition":0.133},
{"e":94,"Link":0.083,"Recon":0.11,"MI-NSG":0.125,"Decorr":0,"Partition":0.127},
{"e":99,"Link":0.089,"Recon":0.109,"MI-NSG":0.12,"Decorr":0,"Partition":0.127}
]
},
"vconcat": [
{
"hconcat": [
{"width": 357, "height": 218, "data": {"name": "t1"}, "title": "(a) Spectral demand (RQ)",
 "transform": [{"fold": ["Link","Recon","MI-NSG","Decorr","Partition"], "as": ["s","v"]}],
 "mark": {"type": "line", "strokeWidth": 3.3},
 "encoding": {
  "x": {"field": "e", "type": "quantitative", "scale": {"domain": [-5, 105], "nice": false, "zero": false}, "axis": {"values": [0,25,50,75,100], "title": "Epoch"}},
  "y": {"field": "v", "type": "quantitative", "scale": {"domain": [-0.08, 1.69], "nice": false, "zero": false}, "axis": {"values": [0,0.5,1,1.5], "format": ".1f", "title": null}},
  "color": {"field": "s", "type": "nominal", "scale": {"domain": ["Link","Recon","MI-NSG","Decorr","Partition"], "range": ["#0173b2","#e69f00","#029e73","#9467bd","#d55e00"]}, "legend": null}
 }},
{"width": 355, "height": 218, "data": {"name": "t2"}, "title": "(b) Interference (Conf)",
 "transform": [{"fold": ["Link","Recon","MI-NSG","Decorr","Partition"], "as": ["s","v"]}],
 "mark": {"type": "line", "strokeWidth": 3.3},
 "encoding": {
  "x": {"field": "e", "type": "quantitative", "scale": {"domain": [-4.95, 103.95], "nice": false, "zero": false}, "axis": {"values": [0,25,50,75,100], "title": "Epoch"}},
  "y": {"field": "v", "type": "quantitative", "scale": {"domain": [-0.03, 0.625], "nice": false, "zero": false}, "axis": {"values": [0,0.2,0.4,0.6], "format": ".1f", "title": null}},
  "color": {"field": "s", "type": "nominal", "scale": {"domain": ["Link","Recon","MI-NSG","Decorr","Partition"], "range": ["#0173b2","#e69f00","#029e73","#9467bd","#d55e00"]},
   "legend": {"orient": "none", "legendX": -140, "legendY": 322, "direction": "horizontal", "columns": 5, "title": null}}
 }},
{"width": 355, "height": 218, "data": {"name": "t3"}, "title": "(c) Composite difficulty D",
 "transform": [{"fold": ["Link","Recon","MI-NSG","Partition","Decorr"], "as": ["s","v"]}],
 "mark": {"type": "line", "strokeWidth": 3.3},
 "encoding": {
  "x": {"field": "e", "type": "quantitative", "scale": {"domain": [-4.95, 103.95], "nice": false, "zero": false}, "axis": {"values": [0,25,50,75,100], "title": "Epoch"}},
  "y": {"field": "v", "type": "quantitative", "scale": {"domain": [-0.029, 0.609], "nice": false, "zero": false}, "axis": {"values": [0,0.2,0.4,0.6], "format": ".1f", "title": null}},
  "color": {"field": "s", "type": "nominal", "scale": {"domain": ["Link","Recon","MI-NSG","Decorr","Partition"], "range": ["#0173b2","#e69f00","#029e73","#9467bd","#d55e00"]}, "legend": null}
 }}
],
"spacing": 72, "bounds": "flush",
"resolve": {"scale": {"color": "independent"}, "legend": {"color": "independent"}}
},
{
"hconcat": [
{"width": 348, "height": 221, "data": {"name": "b1"}, "title": "(a) Spectral demand (RQ)",
 "transform": [{"fold": ["Link","Recon","MI-NSG","Decorr","Partition"], "as": ["s","v"]}],
 "mark": {"type": "line", "strokeWidth": 3.3},
 "encoding": {
  "x": {"field": "e", "type": "quantitative", "scale": {"domain": [-4.95, 103.95], "nice": false, "zero": false}, "axis": {"values": [0,25,50,75,100], "title": "Epoch"}},
  "y": {"field": "v", "type": "quantitative", "scale": {"domain": [0.17, 1.87], "nice": false, "zero": false}, "axis": {"values": [0.5,1,1.5], "format": ".1f", "title": null}},
  "color": {"field": "s", "type": "nominal", "scale": {"domain": ["Link","Recon","MI-NSG","Decorr","Partition"], "range": ["#0173b2","#e69f00","#029e73","#9467bd","#d55e00"]}, "legend": null}
 }},
{"width": 347, "height": 221, "data": {"name": "b2"}, "title": "(b) Interference (Conf)",
 "transform": [{"fold": ["Link","Recon","MI-NSG","Decorr","Partition"], "as": ["s","v"]}],
 "mark": {"type": "line", "strokeWidth": 3.3},
 "encoding": {
  "x": {"field": "e", "type": "quantitative", "scale": {"domain": [-4.95, 103.95], "nice": false, "zero": false}, "axis": {"values": [0,25,50,75,100], "title": "Epoch"}},
  "y": {"field": "v", "type": "quantitative", "scale": {"domain": [-0.018, 0.321], "nice": false, "zero": false}, "axis": {"values": [0,0.1,0.2,0.3], "format": ".1f", "title": null}},
  "color": {"field": "s", "type": "nominal", "scale": {"domain": ["Link","Recon","MI-NSG","Decorr","Partition"], "range": ["#0173b2","#e69f00","#029e73","#9467bd","#d55e00"]},
   "legend": {"orient": "none", "legendX": -145, "legendY": 323, "direction": "horizontal", "columns": 5, "title": null}}
 }},
{"width": 347, "height": 221, "data": {"name": "b3"}, "title": "(c) Composite difficulty D",
 "transform": [{"fold": ["Link","Recon","MI-NSG","Decorr","Partition"], "as": ["s","v"]}],
 "mark": {"type": "line", "strokeWidth": 3.3},
 "encoding": {
  "x": {"field": "e", "type": "quantitative", "scale": {"domain": [-4.95, 103.95], "nice": false, "zero": false}, "axis": {"values": [0,25,50,75,100], "title": "Epoch"}},
  "y": {"field": "v", "type": "quantitative", "scale": {"domain": [-0.014, 0.282], "nice": false, "zero": false}, "axis": {"values": [0,0.1,0.2], "format": ".1f", "title": null}},
  "color": {"field": "s", "type": "nominal", "scale": {"domain": ["Link","Recon","MI-NSG","Decorr","Partition"], "range": ["#0173b2","#e69f00","#029e73","#9467bd","#d55e00"]}, "legend": null}
 }}
],
"spacing": 85, "bounds": "flush",
"resolve": {"scale": {"color": "independent"}, "legend": {"color": "independent"}}
}
],
"spacing": 51,
"resolve": {"scale": {"color": "independent"}, "legend": {"color": "independent"}},
"config": {
 "view": {"stroke": null},
 "font": "Liberation Serif",
 "axis": {"domainColor": "#000", "domainWidth": 1.5, "tickColor": "#000", "tickWidth": 1.5, "tickSize": 8,
  "labelFont": "DejaVu Serif", "labelFontSize": 17, "labelColor": "#000", "labelPadding": 8, "labelFlush": false,
  "titleFont": "Liberation Serif", "titleFontSize": 24, "titleFontWeight": "normal", "titleColor": "#000", "titlePadding": 10,
  "gridColor": "#e6e6e6", "gridWidth": 1},
 "axisX": {"labelPadding": 10, "titlePadding": 11},
 "title": {"font": "Liberation Serif", "fontSize": 24.8, "fontWeight": "normal", "color": "#000", "frame": "group", "anchor": "middle", "offset": 12},
 "legend": {"labelFont": "Liberation Serif", "labelFontSize": 17, "labelColor": "#000", "symbolType": "stroke", "symbolSize": 784, "symbolStrokeWidth": 4, "labelOffset": 7, "columnPadding": 10, "padding": 0}
}
}
